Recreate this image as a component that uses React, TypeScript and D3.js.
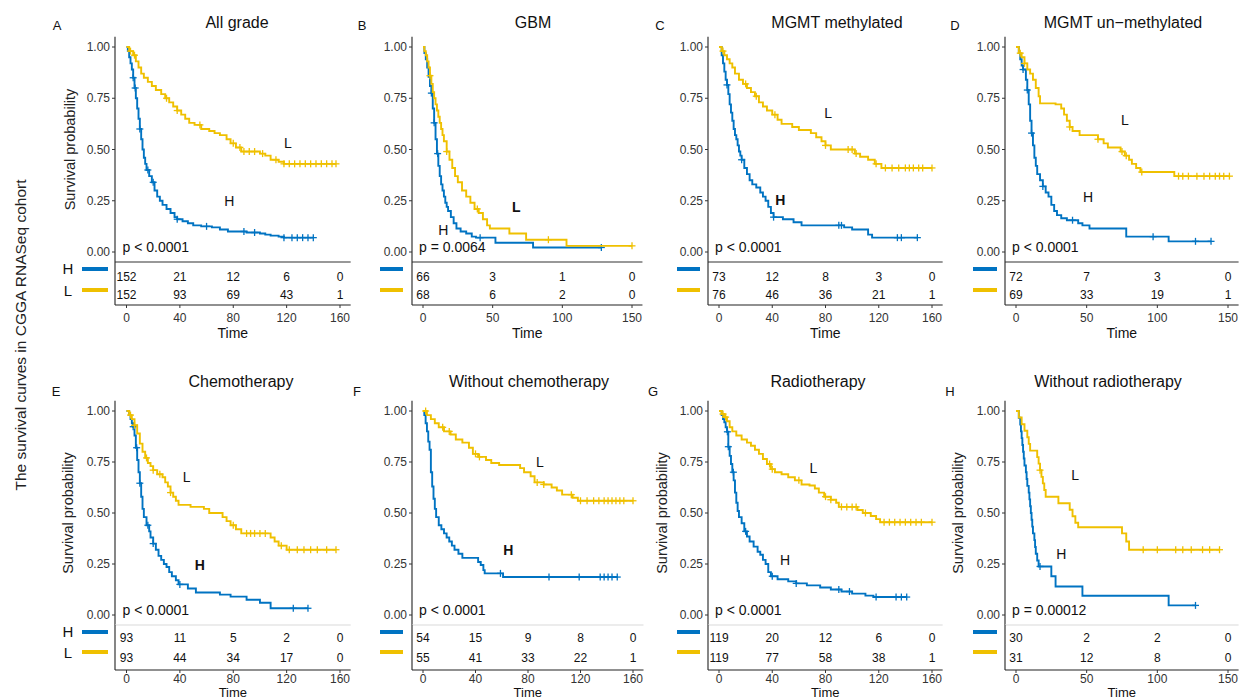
import React from 'react';
import * as d3 from 'd3';

type Step = [number, number];

const BLUE = '#0073C2';
const GOLD = '#EFC000';

// ---------- shared ticks / titles ----------
const ticks160 = [0, 40, 80, 120, 160];
const ticks150 = [0, 50, 100, 150];
const yTicks = [0, 0.25, 0.5, 0.75, 1];
const titles = ['All grade', 'GBM', 'MGMT methylated', 'MGMT un\u2212methylated', 'Chemotherapy', 'Without chemotherapy', 'Radiotherapy', 'Without radiotherapy'];
const letters = ['A', 'B', 'C', 'D', 'E', 'F', 'G', 'H'];
const pValues = ['p < 0.0001', 'p = 0.0064', 'p < 0.0001', 'p < 0.0001', 'p < 0.0001', 'p < 0.0001', 'p < 0.0001', 'p = 0.00012'];

// ---------- A: All grade ----------
const aHighSteps: Step[] = [[0,1],[1,0.98],[2,0.95],[3,0.92],[4,0.89],[5,0.85],[6,0.80],[7,0.75],[8,0.70],[9,0.65],[10,0.60],[11,0.55],[12,0.50],[13,0.46],[14,0.43],[15,0.40],[17,0.37],[19,0.34],[21,0.30],[23,0.27],[25,0.25],[27,0.23],[30,0.21],[33,0.19],[36,0.17],[38,0.16],[42,0.15],[46,0.14],[50,0.13],[56,0.125],[64,0.12],[70,0.11],[76,0.10],[90,0.095],[100,0.09],[104,0.085],[108,0.08],[114,0.075],[118,0.07]];
const aHighCensor = [5,6.5,10,16,20,38,60,88,96,118,124,128,132,136,140];
const aLowSteps: Step[] = [[0,1],[2,0.98],[5,0.96],[7,0.93],[9,0.90],[11,0.87],[13,0.85],[16,0.83],[19,0.81],[22,0.79],[26,0.77],[29,0.75],[32,0.73],[35,0.71],[38,0.69],[41,0.67],[44,0.65],[47,0.63],[51,0.62],[56,0.60],[62,0.59],[66,0.58],[70,0.57],[75,0.55],[78,0.53],[82,0.51],[86,0.49],[100,0.48],[104,0.47],[108,0.45],[114,0.44],[118,0.43]];
const aLowCensor = [3,6,30,38,55,80,85,88,92,96,102,112,118,122,126,130,134,138,142,146,150,154,157];
const aRiskHigh = [152, 21, 12, 6, 0];
const aRiskLow = [152, 93, 69, 43, 1];

// ---------- B: GBM ----------
const bHighSteps: Step[] = [[0,1],[1,0.97],[2,0.94],[3,0.9],[4,0.855],[5,0.81],[6,0.775],[7,0.70],[8,0.63],[9,0.55],[10,0.48],[11,0.42],[12,0.37],[13,0.33],[14,0.30],[15,0.27],[16,0.24],[17,0.22],[18,0.20],[20,0.17],[22,0.14],[24,0.115],[27,0.10],[31,0.09],[35,0.075],[38,0.07],[52,0.045],[79,0.022]];
const bHighCensor = [6,8,10.5,41,128];
const bLowSteps: Step[] = [[0,1],[1,0.98],[2,0.96],[3,0.93],[4,0.9],[5,0.86],[6,0.82],[7,0.78],[8,0.75],[9,0.72],[10,0.69],[11,0.66],[12,0.63],[13,0.60],[14,0.57],[15,0.54],[17,0.49],[19,0.45],[21,0.41],[23,0.37],[25,0.34],[28,0.30],[31,0.27],[34,0.24],[37,0.21],[40,0.19],[43,0.16],[46,0.13],[48,0.115],[62,0.09],[74,0.06],[103,0.03]];
const bLowCensor = [5,17,39,90,150];
const bRiskHigh = [66, 3, 1, 0];
const bRiskLow = [68, 6, 2, 0];

// ---------- C: MGMT methylated ----------
const cHighSteps: Step[] = [[0,1],[2,0.96],[3,0.92],[4,0.88],[5,0.84],[6,0.815],[7,0.77],[8,0.72],[9,0.68],[10,0.64],[11,0.60],[12,0.57],[13,0.55],[14,0.52],[15,0.49],[16,0.47],[17,0.45],[19,0.41],[21,0.38],[23,0.35],[25,0.33],[28,0.315],[31,0.29],[33,0.27],[35,0.25],[37,0.22],[39,0.19],[41,0.17],[48,0.16],[56,0.145],[62,0.13],[94,0.12],[100,0.11],[112,0.085],[115,0.07]];
const cHighCensor = [6,17,41,90,92,134,137,149];
const cLowSteps: Step[] = [[0,1],[2,0.98],[4,0.96],[6,0.94],[8,0.92],[10,0.90],[12,0.87],[15,0.84],[18,0.82],[21,0.80],[24,0.78],[27,0.76],[30,0.73],[33,0.71],[36,0.69],[40,0.67],[44,0.645],[47,0.625],[55,0.61],[60,0.595],[69,0.58],[73,0.56],[77,0.54],[80,0.52],[84,0.50],[102,0.48],[106,0.465],[112,0.45],[117,0.43],[122,0.41]];
const cLowCensor = [3,20,28,42,80,97,100,103,118,125,130,135,140,143,146,150,153,160];
const cRiskHigh = [73, 12, 8, 3, 0];
const cRiskLow = [76, 46, 36, 21, 1];

// ---------- D: MGMT un-methylated ----------
const dHighSteps: Step[] = [[0,1],[2,0.97],[3,0.94],[4,0.91],[5,0.89],[7,0.84],[8,0.79],[9,0.72],[10,0.64],[11,0.58],[12,0.52],[13,0.46],[14,0.42],[15,0.38],[17,0.35],[19,0.32],[21,0.29],[23,0.27],[25,0.23],[27,0.2],[29,0.18],[32,0.165],[36,0.155],[44,0.14],[47,0.13],[52,0.115],[78,0.075],[108,0.052]];
const dHighCensor = [5,8,11,19,40,97,127,138];
const dLowSteps: Step[] = [[0,1],[2,0.97],[4,0.95],[6,0.92],[8,0.89],[10,0.87],[12,0.84],[14,0.80],[16,0.76],[17,0.725],[28,0.72],[32,0.70],[34,0.67],[36,0.64],[38,0.61],[40,0.59],[45,0.57],[58,0.55],[62,0.53],[65,0.51],[74,0.49],[77,0.47],[80,0.45],[82,0.43],[85,0.41],[88,0.39],[112,0.37]];
const dLowCensor = [3,6,38,58,75,78,89,115,118,122,128,133,137,141,144,147,151];
const dRiskHigh = [72, 7, 3, 0];
const dRiskLow = [69, 33, 19, 1];

// ---------- E: Chemotherapy ----------
const eHighSteps: Step[] = [[0,1],[2,0.98],[3,0.96],[4,0.94],[5,0.923],[6,0.88],[7,0.82],[8,0.76],[9,0.70],[10,0.646],[11,0.58],[12,0.52],[13,0.48],[15,0.44],[17,0.41],[18,0.38],[20,0.35],[22,0.32],[24,0.29],[26,0.27],[28,0.25],[30,0.235],[32,0.21],[34,0.19],[37,0.17],[39,0.15],[46,0.13],[52,0.11],[70,0.10],[78,0.09],[90,0.075],[100,0.06],[108,0.033]];
const eHighCensor = [5,7.6,10,16,20,40,125,136];
const eLowSteps: Step[] = [[0,1],[2,0.98],[4,0.96],[6,0.93],[8,0.89],[10,0.84],[12,0.80],[14,0.77],[16,0.745],[18,0.73],[20,0.71],[23,0.69],[27,0.675],[29,0.65],[31,0.63],[33,0.60],[35,0.58],[37,0.56],[39,0.54],[48,0.53],[58,0.52],[62,0.50],[72,0.48],[75,0.46],[78,0.44],[82,0.42],[86,0.40],[108,0.38],[111,0.36],[114,0.34],[120,0.32]];
const eLowCensor = [3,6,15,20,25,33,80,90,93,96,100,104,116,122,128,133,138,143,150,157];
const eRiskHigh = [93, 11, 5, 2, 0];
const eRiskLow = [93, 44, 34, 17, 0];

// ---------- F: Without chemotherapy ----------
const fHighSteps: Step[] = [[0,1],[1,0.98],[2,0.94],[3,0.90],[4,0.85],[5,0.81],[6,0.70],[7,0.63],[8,0.57],[9,0.52],[10,0.48],[12,0.44],[14,0.42],[16,0.40],[18,0.38],[20,0.36],[22,0.34],[24,0.32],[27,0.30],[30,0.28],[42,0.26],[44,0.245],[46,0.22],[47,0.204],[61,0.186]];
const fHighCensor = [59,96,119,135,138,141,144,148];
const fLowSteps: Step[] = [[0,1],[3,0.98],[6,0.96],[9,0.94],[12,0.92],[16,0.90],[21,0.885],[25,0.86],[30,0.845],[35,0.82],[38,0.79],[42,0.775],[48,0.76],[52,0.745],[58,0.735],[74,0.72],[77,0.70],[82,0.68],[85,0.65],[92,0.64],[98,0.625],[102,0.61],[106,0.59],[114,0.575],[118,0.56]];
const fLowCensor = [2,15,20,40,43,87,92,113,120,125,130,134,138,141,144,147,150,153,160];
const fRiskHigh = [54, 15, 9, 8, 0];
const fRiskLow = [55, 41, 33, 22, 1];

// ---------- G: Radiotherapy ----------
const gHighSteps: Step[] = [[0,1],[2,0.98],[3,0.96],[4,0.945],[5,0.92],[6,0.898],[7,0.825],[8,0.78],[9,0.74],[10,0.70],[11,0.66],[12,0.60],[13,0.55],[14,0.51],[15,0.48],[17,0.45],[19,0.41],[21,0.385],[23,0.36],[26,0.335],[29,0.31],[31,0.295],[33,0.27],[35,0.25],[37,0.21],[39,0.19],[44,0.175],[52,0.165],[58,0.155],[66,0.145],[76,0.135],[84,0.125],[92,0.115],[100,0.105],[110,0.095],[116,0.088]];
const gHighCensor = [6.3,7,10.8,20,40,58,90,98,118,133,137,141];
const gLowSteps: Step[] = [[0,1],[2,0.985],[4,0.97],[6,0.95],[8,0.92],[10,0.90],[13,0.88],[17,0.86],[21,0.845],[24,0.83],[27,0.81],[30,0.79],[33,0.765],[36,0.74],[39,0.715],[42,0.70],[47,0.69],[52,0.675],[57,0.66],[62,0.64],[68,0.635],[72,0.62],[75,0.60],[79,0.58],[84,0.565],[88,0.55],[90,0.53],[104,0.515],[108,0.50],[114,0.485],[118,0.47],[121,0.455]];
const gLowCensor = [3,5,38,40,60,80,84,92,96,100,103,110,124,128,132,136,140,144,148,152,160];
const gRiskHigh = [119, 20, 12, 6, 0];
const gRiskLow = [119, 77, 58, 38, 1];

// ---------- H: Without radiotherapy ----------
const hHighSteps: Step[] = [[0,1],[2,0.967],[3,0.933],[3.5,0.9],[4,0.867],[4.5,0.833],[5,0.80],[5.5,0.767],[6,0.733],[7,0.70],[7.5,0.667],[8,0.633],[9,0.60],[9.5,0.567],[10,0.533],[10.5,0.50],[11,0.467],[11.5,0.433],[12,0.40],[13,0.367],[13.5,0.333],[14,0.30],[15,0.267],[16,0.238],[25,0.19],[28,0.14],[47,0.094],[108,0.047]];
const hHighCensor = [17,127];
const hLowSteps: Step[] = [[0,1],[2,0.968],[4,0.935],[6,0.903],[8,0.871],[9,0.839],[10,0.806],[15,0.774],[16,0.742],[17,0.71],[18,0.677],[19,0.645],[20,0.613],[21,0.58],[30,0.548],[38,0.516],[40,0.484],[42,0.452],[44,0.43],[75,0.40],[78,0.36],[80,0.32]];
const hLowCensor = [17,90,100,113,118,124,132,137,144];
const hRiskHigh = [30, 2, 2, 0];
const hRiskLow = [31, 12, 8, 0];

// ---------- layout ----------
const rowsLayout = [
  { y1: 47, y0: 252, tableTop: 262, tableBottom: 305, rowHY: 277, rowLY: 295, tickY: 318, timeY: 333, timeSize: 14, titleY: 22.5, letterY: 25, legHY: 269, legLY: 290, tableLine: '#333' },
  { y1: 411, y0: 615, tableTop: 625, tableBottom: 670, rowHY: 638, rowLY: 658, tickY: 679, timeY: 692.5, timeSize: 13, titleY: 381, letterY: 391, legHY: 632, legLY: 652, tableLine: '#d9d9d9' },
];

const panels = [
  { row: 0, axisX: 115, px0: 126.5, pxMax: 340, tMax: 160, ticks: ticks160, titleX: 237, letterX: 57, legX: [82, 108], legLetters: true, yLabelX: 70, hi: [aHighSteps, aHighCensor], lo: [aLowSteps, aLowCensor], rH: aRiskHigh, rL: aRiskLow, hLab: [77, 0.25], lLab: [121, 0.53], hBold: false, lBold: false },
  { row: 0, axisX: 412, px0: 423, pxMax: 632, tMax: 150, ticks: ticks150, titleX: 533, letterX: 362, legX: [380, 403], legLetters: false, yLabelX: null, hi: [bHighSteps, bHighCensor], lo: [bLowSteps, bLowCensor], rH: bRiskHigh, rL: bRiskLow, hLab: [14.6, 0.107], lLab: [67, 0.22], hBold: false, lBold: true },
  { row: 0, axisX: 708, px0: 719, pxMax: 932, tMax: 160, ticks: ticks160, titleX: 837, letterX: 660, legX: [677, 700], legLetters: false, yLabelX: null, hi: [cHighSteps, cHighCensor], lo: [cLowSteps, cLowCensor], rH: cRiskHigh, rL: cRiskLow, hLab: [46, 0.254], lLab: [82, 0.677], hBold: true, lBold: false },
  { row: 0, axisX: 1005, px0: 1016, pxMax: 1228, tMax: 150, ticks: ticks150, titleX: 1123, letterX: 955, legX: [973, 997], legLetters: false, yLabelX: null, hi: [dHighSteps, dHighCensor], lo: [dLowSteps, dLowCensor], rH: dRiskHigh, rL: dRiskLow, hLab: [51, 0.27], lLab: [77, 0.644], hBold: false, lBold: false },
  { row: 1, axisX: 115, px0: 126.5, pxMax: 340, tMax: 160, ticks: ticks160, titleX: 241, letterX: 56, legX: [82, 108], legLetters: true, yLabelX: 68, hi: [eHighSteps, eHighCensor], lo: [eLowSteps, eLowCensor], rH: eRiskHigh, rL: eRiskLow, hLab: [55, 0.245], lLab: [45, 0.678], hBold: true, lBold: false },
  { row: 1, axisX: 412, px0: 423, pxMax: 633, tMax: 160, ticks: ticks160, titleX: 529, letterX: 357, legX: [380, 403], legLetters: false, yLabelX: null, hi: [fHighSteps, fHighCensor], lo: [fLowSteps, fLowCensor], rH: fRiskHigh, rL: fRiskLow, hLab: [65, 0.32], lLab: [89, 0.75], hBold: true, lBold: false },
  { row: 1, axisX: 708, px0: 719, pxMax: 932, tMax: 160, ticks: ticks160, titleX: 818, letterX: 653, legX: [677, 700], legLetters: false, yLabelX: 662, hi: [gHighSteps, gHighCensor], lo: [gLowSteps, gLowCensor], rH: gRiskHigh, rL: gRiskLow, hLab: [49.6, 0.27], lLab: [71, 0.72], hBold: false, lBold: false },
  { row: 1, axisX: 1005, px0: 1016, pxMax: 1228, tMax: 150, ticks: ticks150, titleX: 1108, letterX: 950, legX: [973, 997], legLetters: false, yLabelX: 958, hi: [hHighSteps, hHighCensor], lo: [hLowSteps, hLowCensor], rH: hRiskHigh, rL: hRiskLow, hLab: [32, 0.30], lLab: [41.8, 0.686], hBold: false, lBold: false },
];

const FONT = '"Liberation Sans", Arial, sans-serif';

function survAt(steps: Step[], t: number): number {
  let s = 1;
  for (const [st, sv] of steps) {
    if (st <= t) s = sv;
    else break;
  }
  return s;
}

function Curve({ steps, censor, x, y, color }: { steps: Step[]; censor: number[]; x: d3.ScaleLinear<number, number>; y: d3.ScaleLinear<number, number>; color: string }) {
  const end = Math.max(censor[censor.length - 1], steps[steps.length - 1][0]);
  const pts: Step[] = [...steps, [end, steps[steps.length - 1][1]]];
  const line = d3.line<Step>().x(d => x(d[0])).y(d => y(d[1])).curve(d3.curveStepAfter);
  return (
    <g>
      <path d={line(pts) || ''} fill="none" stroke={color} strokeWidth={1.9} />
      {censor.map((t, i) => {
        const cx = x(t);
        const cy = y(survAt(steps, t));
        return (
          <g key={i} stroke={color} strokeWidth={1.3}>
            <line x1={cx - 3.5} x2={cx + 3.5} y1={cy} y2={cy} />
            <line x1={cx} x2={cx} y1={cy - 3.5} y2={cy + 3.5} />
          </g>
        );
      })}
    </g>
  );
}

function Panel({ p, i }: { p: typeof panels[number]; i: number }) {
  const r = rowsLayout[p.row];
  const x = d3.scaleLinear().domain([0, p.tMax]).range([p.px0, p.pxMax]);
  const y = d3.scaleLinear().domain([0, 1]).range([r.y0, r.y1]);
  const fmt = d3.format('.2f');
  const rightX = x(p.tMax * 1.05);
  const topY = y(1.05);
  const riskX = p.ticks;
  return (
    <g fontFamily={FONT}>
      <text x={p.letterX} y={r.letterY} fontSize={13} textAnchor="middle" dominantBaseline="central" fill="#111">{letters[i]}</text>
      <text x={p.titleX} y={r.titleY} fontSize={16} textAnchor="middle" dominantBaseline="central" fill="#111">{titles[i]}</text>
      {p.yLabelX !== null && (
        <text transform={`translate(${p.yLabelX},${(r.y0 + r.y1) / 2}) rotate(-90)`} fontSize={14.5} textAnchor="middle" dominantBaseline="central" fill="#222">Survival probability</text>
      )}
      {/* y axis */}
      <line x1={p.axisX} x2={p.axisX} y1={topY} y2={r.tableTop} stroke="#222" strokeWidth={1.1} />
      {yTicks.map(v => (
        <g key={v}>
          <line x1={p.axisX - 3} x2={p.axisX} y1={y(v)} y2={y(v)} stroke="#333" strokeWidth={1} />
          <text x={p.axisX - 5} y={y(v)} fontSize={12} textAnchor="end" dominantBaseline="central" fill="#333">{fmt(v)}</text>
        </g>
      ))}
      {/* curves */}
      <Curve steps={p.hi[0] as Step[]} censor={p.hi[1] as number[]} x={x} y={y} color={BLUE} />
      <Curve steps={p.lo[0] as Step[]} censor={p.lo[1] as number[]} x={x} y={y} color={GOLD} />
      <text x={x(p.lLab[0])} y={y(p.lLab[1])} fontSize={14} fontWeight={p.lBold ? 'bold' : 'normal'} textAnchor="middle" dominantBaseline="central" fill="#111">L</text>
      <text x={x(p.hLab[0])} y={y(p.hLab[1])} fontSize={14} fontWeight={p.hBold ? 'bold' : 'normal'} textAnchor="middle" dominantBaseline="central" fill="#111">H</text>
      <text x={p.px0 - 4} y={r.y0 - 5} fontSize={14} dominantBaseline="central" fill="#111">{pValues[i]}</text>
      {/* risk table */}
      <line x1={p.axisX} x2={rightX} y1={r.tableTop} y2={r.tableTop} stroke={r.tableLine} strokeWidth={1.1} />
      <line x1={p.axisX} x2={p.axisX} y1={r.tableTop} y2={r.tableBottom} stroke="#222" strokeWidth={1.1} />
      <line x1={p.axisX} x2={rightX} y1={r.tableBottom} y2={r.tableBottom} stroke="#222" strokeWidth={1.1} />
      {riskX.map((t, k) => (
        <g key={t}>
          <text x={x(t)} y={r.rowHY} fontSize={12} textAnchor="middle" dominantBaseline="central" fill="#111">{p.rH[k]}</text>
          <text x={x(t)} y={r.rowLY} fontSize={12} textAnchor="middle" dominantBaseline="central" fill="#111">{p.rL[k]}</text>
          <line x1={x(t)} x2={x(t)} y1={r.tableBottom} y2={r.tableBottom + 3} stroke="#333" strokeWidth={1} />
          <text x={x(t)} y={r.tickY} fontSize={12} textAnchor="middle" dominantBaseline="central" fill="#333">{t}</text>
        </g>
      ))}
      <text x={(p.axisX + rightX) / 2} y={r.timeY} fontSize={r.timeSize} textAnchor="middle" dominantBaseline="central" fill="#111">Time</text>
      {/* legend */}
      <line x1={p.legX[0]} x2={p.legX[1]} y1={r.legHY} y2={r.legHY} stroke={BLUE} strokeWidth={4} />
      <line x1={p.legX[0]} x2={p.legX[1]} y1={r.legLY} y2={r.legLY} stroke={GOLD} strokeWidth={4} />
      {p.legLetters && (
        <g>
          <text x={68} y={r.legHY - 1} fontSize={15} textAnchor="middle" dominantBaseline="central" fill="#111">H</text>
          <text x={68} y={r.legLY} fontSize={15} textAnchor="middle" dominantBaseline="central" fill="#111">L</text>
        </g>
      )}
    </g>
  );
}

export default function App() {
  return (
    <svg width={1240} height={699} style={{ position: 'absolute', left: 0, top: 0, display: 'block', background: '#fff' }}>
      <rect width={1240} height={699} fill="#fff" />
      <text transform="translate(20,335) rotate(-90)" fontFamily={FONT} fontSize={15.5} textAnchor="middle" dominantBaseline="central" fill="#222">The survival curves in CGGA RNASeq cohort</text>
      {panels.map((p, i) => <Panel key={i} p={p} i={i} />)}
    </svg>
  );
}
